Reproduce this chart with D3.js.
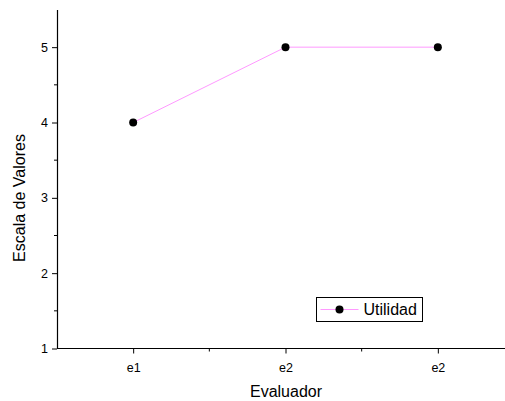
<!DOCTYPE html>
<html>
<head>
<meta charset="utf-8">
<script src="https://cdn.jsdelivr.net/npm/d3@7"></script>
<style>
body { margin: 0; background: #fff; }
text { font-family: Arial, "Liberation Sans", sans-serif; fill: #000; }
</style>
</head>
<body>
<script>
var categories = ["e1", "e2", "e2"];
var values = [4, 5, 5];
var seriesName = "Utilidad";
var yTicks = [1, 2, 3, 4, 5];

var width = 505;
var height = 401;

var x = d3.scaleLinear().domain([0.5, 3.5]).range([57, 514]);
var y = d3.scaleLinear().domain([1, 5.5]).range([348.5, 9.5]);

var svg = d3.select('body')
            .append('svg')
            .attr('width', width)
            .attr('height', height)

// x axis: major ticks with labels, minor ticks in between
var xAxis = d3.axisBottom(x)
              .tickValues(categories.map(function(d, i) { return i + 1; }))
              .tickFormat(function(d) { return categories[d - 1]; })
              .tickSize(5)
              .tickSizeOuter(0);

var gx = svg.append('g')
            .attr('transform', 'translate(0,348.5)')
            .call(xAxis);

gx.select('.domain').attr('d', 'M57,0H505').attr('stroke-width', 1.2);
gx.selectAll('.tick text').attr('font-size', 12.5).attr('dy', '1.2em');

gx.selectAll('line.minor')
  .data([1.5, 2.5])
  .enter()
  .append('line')
  .attr('class', 'minor')
  .attr('x1', function(d) { return x(d); })
  .attr('x2', function(d) { return x(d); })
  .attr('y1', 0)
  .attr('y2', 3)
  .attr('stroke', '#000')

// y axis
var yAxis = d3.axisLeft(y)
              .tickValues(yTicks)
              .tickFormat(d3.format('d'))
              .tickSize(5)
              .tickSizeOuter(0);

var gy = svg.append('g')
            .attr('transform', 'translate(57,0)')
            .call(yAxis);

gy.select('.domain').attr('stroke-width', 1.2);
gy.selectAll('.tick text').attr('font-size', 12.5).attr('x', -9);

gy.selectAll('line.minor')
  .data([1.5, 2.5, 3.5, 4.5])
  .enter()
  .append('line')
  .attr('class', 'minor')
  .attr('x1', 0)
  .attr('x2', -3)
  .attr('y1', function(d) { return y(d); })
  .attr('y2', function(d) { return y(d); })
  .attr('stroke', '#000')

// axis titles
svg.append('text')
   .attr('x', 286)
   .attr('y', 397)
   .attr('text-anchor', 'middle')
   .attr('font-size', 16)
   .text('Evaluador');

svg.append('text')
   .attr('transform', 'translate(25,198) rotate(-90)')
   .attr('text-anchor', 'middle')
   .attr('font-size', 16)
   .text('Escala de Valores');

// series
var line = d3.line()
             .x(function(d, i) { return x(i + 1); })
             .y(function(d) { return y(d); });

svg.append('path')
   .attr('fill', 'none')
   .attr('stroke', '#ff99ff')
   .attr('stroke-width', 1)
   .attr('d', line(values))

svg.selectAll('circle.pt')
   .data(values)
   .enter()
   .append('circle')
   .attr('class', 'pt')
   .attr('cx', function(d, i) { return x(i + 1); })
   .attr('cy', function(d) { return y(d); })
   .attr('r', 4)
   .attr('fill', '#000')

// legend
var leg = svg.append('g').attr('transform', 'translate(316.5,297.5)');

leg.append('rect')
   .attr('width', 106)
   .attr('height', 24)
   .attr('fill', '#fff')
   .attr('stroke', '#000')
   .attr('stroke-width', 1)

leg.append('line')
   .attr('x1', 4).attr('x2', 42)
   .attr('y1', 12).attr('y2', 12)
   .attr('stroke', '#ff99ff')

leg.append('circle')
   .attr('cx', 23).attr('cy', 12).attr('r', 4)
   .attr('fill', '#000')

leg.append('text')
   .attr('x', 47)
   .attr('y', 17.5)
   .attr('font-size', 16)
   .text(seriesName);
</script>
</body>
</html>
